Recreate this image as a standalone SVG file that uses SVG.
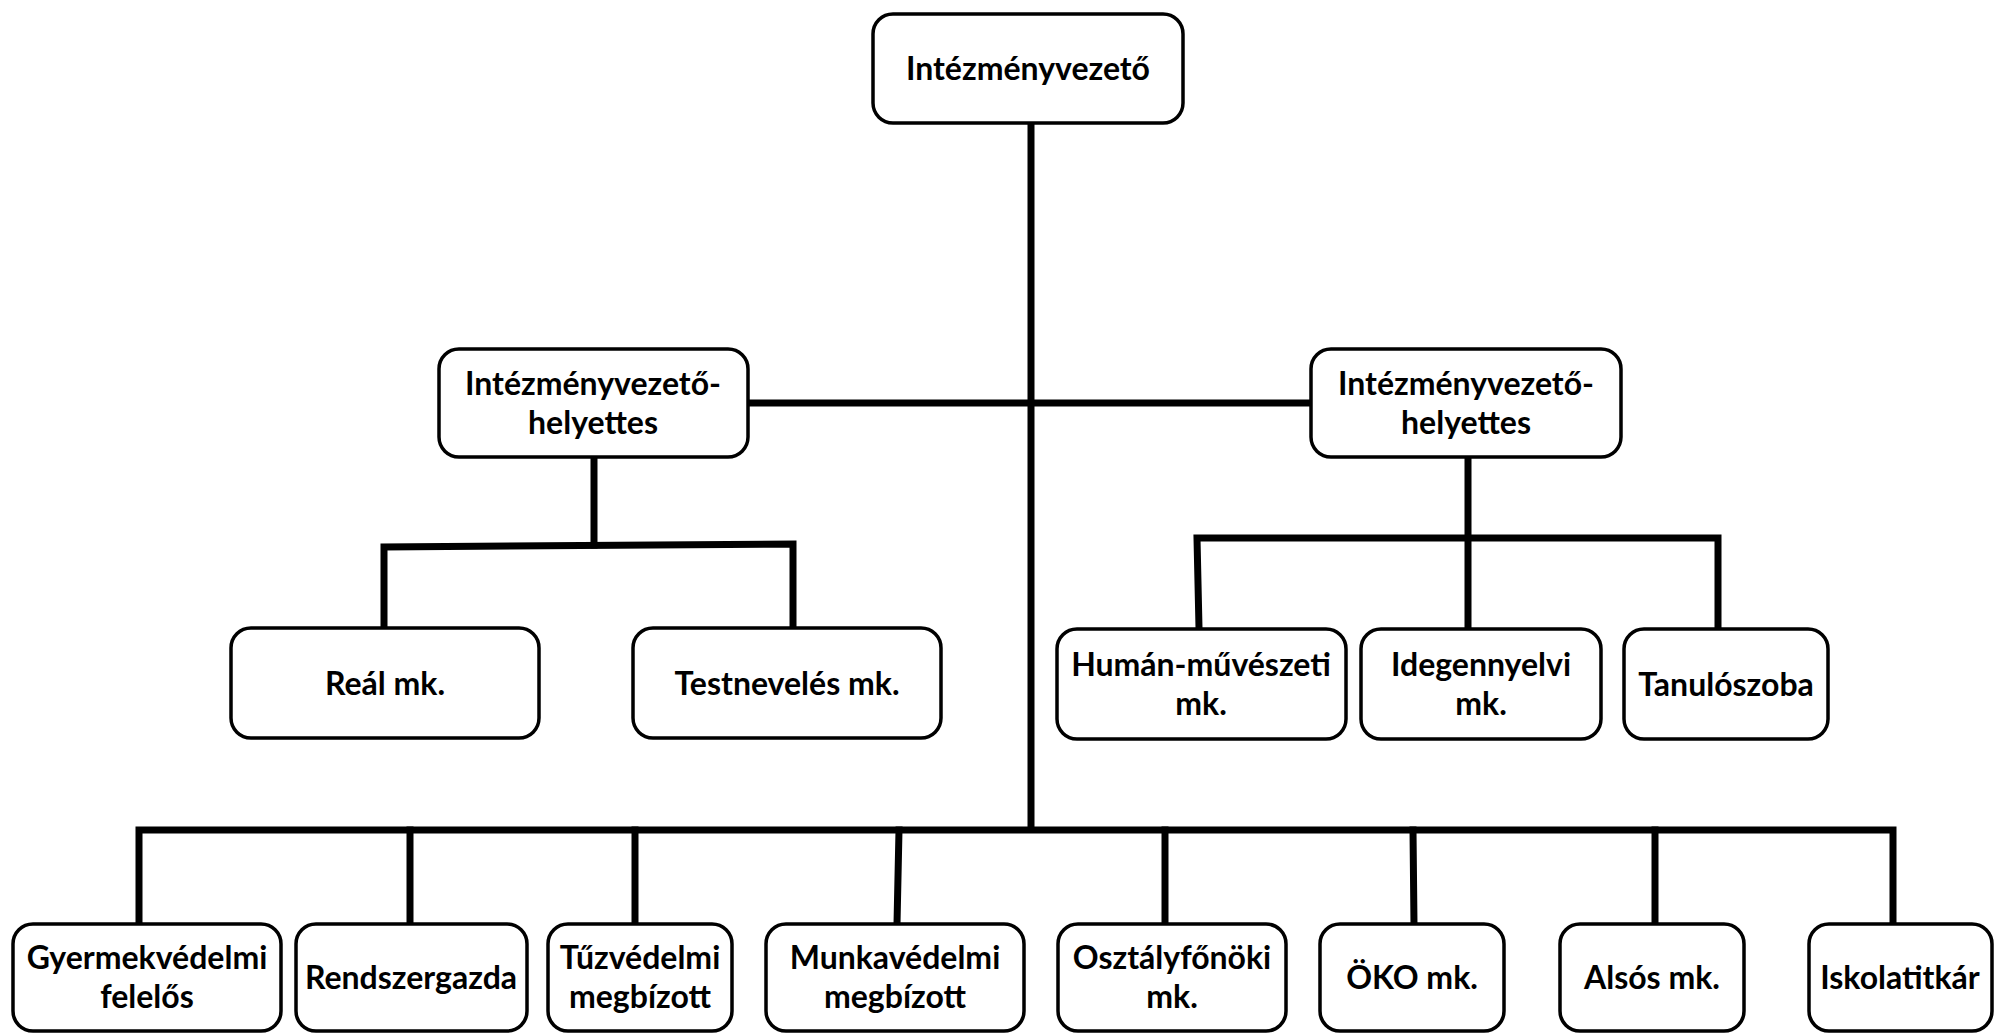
<svg xmlns="http://www.w3.org/2000/svg" width="1995" height="1033" viewBox="0 0 1995 1033">
<style>
.box{fill:#fff;stroke:#000;stroke-width:3.5}
.lbl{font-family:Lato,"Open Sans","DejaVu Sans",sans-serif;font-weight:bold;font-size:32px;fill:#000;text-anchor:middle}
.con{fill:none;stroke:#000;stroke-width:7;stroke-linecap:square;stroke-linejoin:miter}
</style>
<rect width="1995" height="1033" fill="#fff"/>
<g id="connectors">
<line class="con" x1="1031" y1="123" x2="1031" y2="829"/>
<line class="con" x1="748" y1="403" x2="1312" y2="403"/>
<polyline class="con" points="594,458 594,545"/>
<polyline class="con" points="384,628 384,547 793,544 793,628"/>
<polyline class="con" points="1468,458 1468,628"/>
<polyline class="con" points="1199,628 1197,538 1718,538 1718,628"/>
<polyline class="con" points="139,924 139,830 1893,830 1893,924"/>
<line class="con" x1="410" y1="830" x2="410" y2="924"/>
<line class="con" x1="635" y1="830" x2="635" y2="924"/>
<line class="con" x1="899" y1="830" x2="897" y2="924"/>
<line class="con" x1="1165" y1="830" x2="1165" y2="924"/>
<line class="con" x1="1413" y1="830" x2="1414" y2="924"/>
<line class="con" x1="1655" y1="830" x2="1655" y2="924"/>
</g>
<g id="n-vezeto"><rect class="box" x="873" y="14" width="310" height="109" rx="20"/><text class="lbl" x="1028" y="80">Intézményvezető</text></g>
<g id="n-helyettes1"><rect class="box" x="439" y="349" width="309" height="108" rx="20"/><text class="lbl" x="593" y="395">Intézményvezető-</text><text class="lbl" x="593" y="434">helyettes</text></g>
<g id="n-helyettes2"><rect class="box" x="1311" y="349" width="310" height="108" rx="20"/><text class="lbl" x="1466" y="395">Intézményvezető-</text><text class="lbl" x="1466" y="434">helyettes</text></g>
<g id="n-real"><rect class="box" x="231" y="628" width="308" height="110" rx="20"/><text class="lbl" x="385" y="695">Reál mk.</text></g>
<g id="n-testneveles"><rect class="box" x="633" y="628" width="308" height="110" rx="20"/><text class="lbl" x="787" y="695">Testnevelés mk.</text></g>
<g id="n-human"><rect class="box" x="1057" y="629" width="289" height="110" rx="20"/><text class="lbl" x="1201" y="676">Humán-művészeti</text><text class="lbl" x="1201" y="715">mk.</text></g>
<g id="n-idegen"><rect class="box" x="1361" y="629" width="240" height="110" rx="20"/><text class="lbl" x="1481" y="676">Idegennyelvi</text><text class="lbl" x="1481" y="715">mk.</text></g>
<g id="n-tanulo"><rect class="box" x="1624" y="629" width="204" height="110" rx="20"/><text class="lbl" x="1726" y="696">Tanulószoba</text></g>
<g id="n-gyermek"><rect class="box" x="13" y="924" width="268" height="107" rx="20"/><text class="lbl" x="147" y="969">Gyermekvédelmi</text><text class="lbl" x="147" y="1008">felelős</text></g>
<g id="n-rendszer"><rect class="box" x="296" y="924" width="231" height="107" rx="20"/><text class="lbl" x="411" y="989">Rendszergazda</text></g>
<g id="n-tuz"><rect class="box" x="548" y="924" width="184" height="107" rx="20"/><text class="lbl" x="640" y="969">Tűzvédelmi</text><text class="lbl" x="640" y="1008">megbízott</text></g>
<g id="n-munka"><rect class="box" x="766" y="924" width="258" height="107" rx="20"/><text class="lbl" x="895" y="969">Munkavédelmi</text><text class="lbl" x="895" y="1008">megbízott</text></g>
<g id="n-osztaly"><rect class="box" x="1058" y="924" width="228" height="107" rx="20"/><text class="lbl" x="1172" y="969">Osztályfőnöki</text><text class="lbl" x="1172" y="1008">mk.</text></g>
<g id="n-oko"><rect class="box" x="1320" y="924" width="184" height="107" rx="20"/><text class="lbl" x="1412" y="989">ÖKO mk.</text></g>
<g id="n-also"><rect class="box" x="1560" y="924" width="184" height="107" rx="20"/><text class="lbl" x="1652" y="989">Alsós mk.</text></g>
<g id="n-iskola"><rect class="box" x="1809" y="924" width="183" height="107" rx="20"/><text class="lbl" x="1900" y="989">Iskolatitkár</text></g>
</svg>
